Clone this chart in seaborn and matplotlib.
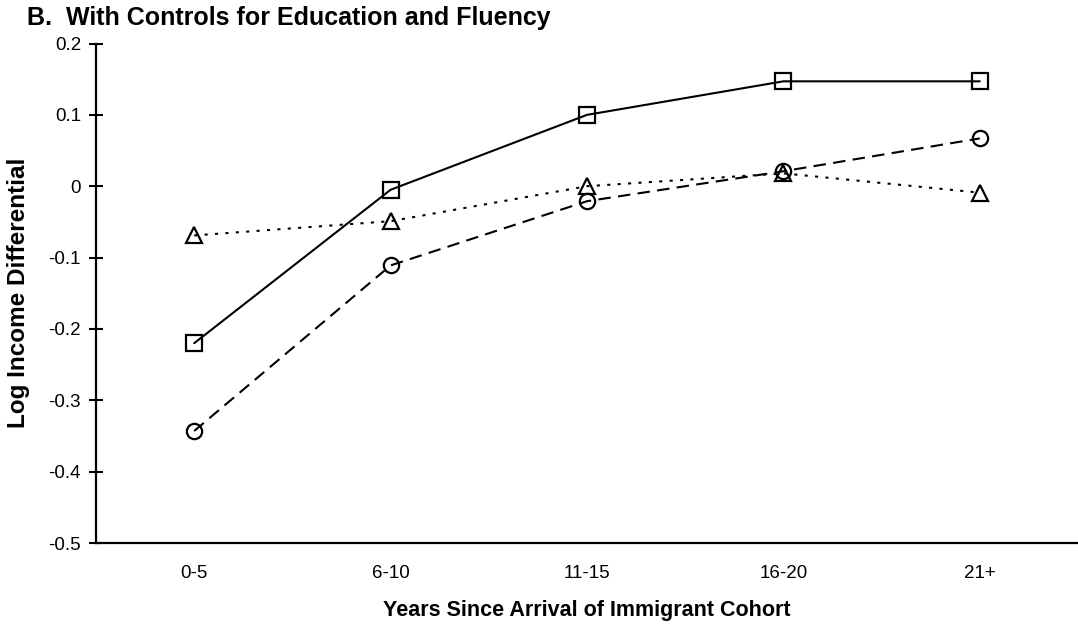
import matplotlib
matplotlib.use("Agg")
import matplotlib.pyplot as plt
import seaborn as sns
import pandas as pd

categories = ["0-5", "6-10", "11-15", "16-20", "21+"]
series_square = [-0.220, -0.005, 0.100, 0.147, 0.147]
series_circle = [-0.343, -0.111, -0.021, 0.021, 0.067]
series_triangle = [-0.069, -0.049, 0.000, 0.018, -0.009]
y_ticks = [0.2, 0.1, 0, -0.1, -0.2, -0.3, -0.4, -0.5]
y_tick_labels = ["0.2", "0.1", "0", "-0.1", "-0.2", "-0.3", "-0.4", "-0.5"]

sns.set_theme(style="white")
plt.rcParams["font.family"] = ["Liberation Sans", "DejaVu Sans"]
plt.rcParams["text.color"] = "black"
plt.rcParams["axes.labelcolor"] = "black"
plt.rcParams["xtick.color"] = "black"
plt.rcParams["ytick.color"] = "black"

fig = plt.figure(figsize=(10.78, 6.27), dpi=100)
ax = fig.add_axes([96/1078, 1 - 543/627, 1 - 96/1078, (543 - 43.5)/627])

specs = [
    (series_triangle, "^", (0, (1.5, 3.5)), 11.5),
    (series_circle, "o", (0, (6, 3.5)), 11),
    (series_square, "s", "-", 11),
]
for vals, mk, ls, ms in specs:
    df = pd.DataFrame({"x": categories, "y": vals})
    sns.lineplot(data=df, x="x", y="y", ax=ax, color="black", linewidth=1.5,
                 linestyle=ls, marker=mk, markersize=ms,
                 markerfacecolor="none", markeredgecolor="black",
                 markeredgewidth=1.6, sort=False)

ax.set_xlim(-0.5, 4.5)
ax.set_ylim(-0.5, 0.2)
ax.set_yticks(y_ticks)
ax.set_yticklabels(y_tick_labels)

for s in ["top", "right"]:
    ax.spines[s].set_visible(False)
for s in ["left", "bottom"]:
    ax.spines[s].set_linewidth(1.6)
    ax.spines[s].set_color("black")

ax.tick_params(axis="y", direction="inout", length=9.5, width=1.5, pad=6,
               labelsize=13.5, colors="black", left=True)
ax.tick_params(axis="x", length=0, pad=15.5, labelsize=13.5, colors="black")

ax.set_xlabel("Years Since Arrival of Immigrant Cohort", fontsize=15.5,
              fontweight="bold", labelpad=13)
ax.set_ylabel("Log Income Differential", fontsize=17.5, fontweight="bold")
ax.yaxis.set_label_coords((30 - 96) / 982, 0.5)

fig.text(27/1078, 1 - 18.5/627, "B.  With Controls for Education and Fluency",
         fontsize=18, fontweight="bold", va="center", ha="left")

fig.savefig("out.png", dpi=100)
